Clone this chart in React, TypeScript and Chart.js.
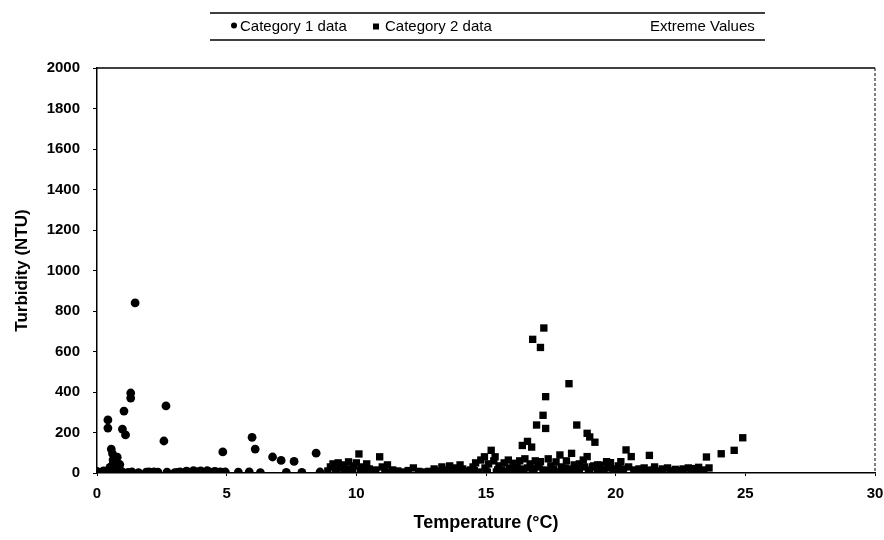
import React, { useEffect, useRef } from "react";
import { Chart, registerables } from "chart.js";

Chart.register(...registerables);

// Category 1 data (circles): temperature (°C) and turbidity (NTU)
const cat1Temp = [
  0.0, 0.1, 0.25, 0.4, 0.5, 0.55, 0.6, 0.7, 0.78, 0.72, 0.6, 0.5, 0.88, 0.82, 0.45, 0.68, 0.95, 0.65,
  0.42, 0.42, 1.47, 1.3, 1.3, 1.04, 0.98, 1.1, 2.66, 2.58,
  1.35, 1.9, 2.0, 2.1, 2.2, 2.7, 3.1, 3.2, 3.35, 3.5, 3.65, 3.8, 3.9, 4.0, 4.1, 4.2, 4.3, 4.4, 4.5,
  4.6, 4.75, 4.85, 5.45, 5.87, 7.9, 8.6, 4.85, 5.98, 6.1, 6.77, 7.1, 7.6, 8.45,
  0.2, 0.35, 0.62, 0.75, 1.2, 1.6, 2.35, 3.0, 3.45, 3.72, 3.95, 4.25, 4.55, 4.68, 4.95, 6.3, 7.3,
];
const cat1Turb = [
  8, 3, 10, 5, 2, 118, 95, 72, 78, 55, 40, 28, 42, 20, 15, 25, 8, 10,
  262, 222, 840, 395, 370, 306, 217, 188, 331, 158,
  5, 4, 6, 3, 5, 4, 3, 6, 2, 5, 3, 7, 4, 10, 3, 6, 8, 2, 5,
  4, 6, 3, 4, 6, 3, 5, 104, 176, 118, 79, 62, 57, 98,
  4, 6, 65, 35, 3, 2, 4, 2, 9, 12, 6, 11, 8, 3, 5, 2, 3,
];

// Category 2 data (squares)
const cat2Temp = [
  9.0, 9.1, 9.2, 9.3, 9.4, 9.5, 9.6, 9.7, 9.8, 9.9, 10.0, 10.1, 10.2, 10.3, 10.4, 10.5, 10.6, 10.9,
  11.0, 11.2, 11.4, 11.6, 11.8, 12.2, 12.4, 12.6, 13.0, 13.1, 13.3, 13.5, 13.6, 13.8, 14.0, 14.1,
  14.3, 14.5, 14.6, 14.8, 14.94, 14.96, 15.2, 15.1, 15.3, 15.35, 15.5, 15.6, 15.7, 15.86, 15.9,
  16.05, 16.1, 16.2, 16.3, 16.4, 16.6, 16.76, 16.5, 16.7, 16.8, 16.9, 16.95, 16.8, 17.1, 17.23,
  17.3, 17.2, 17.3, 17.0, 17.1, 17.2, 17.4, 17.5, 17.6, 17.7, 17.85, 17.9, 18.0, 18.2, 18.3, 18.1,
  18.4, 18.5, 18.6, 18.75, 18.8, 18.9, 18.9, 19.0, 19.0, 19.2, 19.3, 19.4, 19.5, 19.65, 19.8, 19.9,
  20.0, 20.2, 20.4, 20.6, 20.5, 20.7, 20.9, 21.0, 21.1, 21.3, 21.4, 21.5, 21.6, 21.8, 22.0, 22.1,
  22.3, 22.6, 22.8, 22.9, 23.0, 23.2, 23.4, 23.5, 23.6, 24.07, 24.57, 24.9,
  13.2, 13.9, 14.2, 14.4, 14.7, 15.0, 15.4, 15.8, 16.0, 16.4, 16.6, 17.8, 18.2, 18.6, 19.1, 19.3,
  19.7, 20.1, 20.3,
  8.9, 9.25, 9.55, 9.85, 10.15, 10.45, 10.75, 11.1, 11.3, 12.0, 12.8, 13.4, 13.7, 14.05, 14.55,
  15.05, 15.45, 15.75, 16.15, 16.45, 16.85, 17.05, 17.45, 17.65, 18.05, 18.35, 18.95, 19.15, 19.55,
  20.25, 20.8, 21.2, 21.7, 22.2, 22.45, 23.1, 23.3,
];
const cat2Turb = [
  30, 45, 15, 50, 25, 40, 10, 55, 20, 35, 50, 94, 30, 15, 45, 20, 8, 80,
  30, 40, 15, 10, 5, 25, 8, 5, 20, 10, 30, 15, 35, 25, 40, 20,
  10, 30, 50, 64, 80, 25, 112, 45, 60, 80, 35, 15, 50, 64, 25,
  48, 10, 35, 60, 136, 156, 128, 70, 45, 20, 60, 237, 660, 620, 716,
  377, 285, 220, 40, 56, 15, 70, 35, 20, 55, 89, 30, 10, 441, 97, 60,
  40, 237, 20, 64, 30, 196, 81, 178, 15, 152, 40, 39, 10, 56, 51, 20,
  5, 56, 114, 81, 30, 15, 20, 8, 25, 87, 15, 30, 10, 20, 25, 10,
  18, 20, 25, 10, 22, 28, 15, 79, 25, 95, 112, 174,
  5, 8, 3, 15, 5, 10, 5, 8, 20, 5, 25, 5, 20, 45, 30, 5,
  25, 35, 10,
  10, 5, 20, 8, 12, 6, 15, 10, 3, 12, 8, 6, 10, 6, 12,
  4, 15, 5, 12, 20, 8, 30, 12, 5, 25, 15, 8, 35, 18,
  20, 5, 12, 6, 8, 12, 10, 5,
];

const extremeTemp: number[] = [];
const extremeTurb: number[] = [];

const seriesLabels = ["Category 1 data", "Category 2 data", "Extreme Values"];

const xMin = 0;
const xMax = 30;
const xStep = 5;
const yMin = 0;
const yMax = 2000;
const yStep = 200;

const FONT = "'Liberation Sans', Arial, Helvetica, sans-serif";

function pts(xs: number[], ys: number[]) {
  return xs.map((x, i) => ({ x, y: ys[i] }));
}

const framePlugin = {
  id: "frameAndLegend",
  afterDraw(chart: any) {
    const { ctx, chartArea } = chart;
    const { left, right, top, bottom } = chartArea;
    ctx.save();
    ctx.strokeStyle = "#000";
    ctx.lineWidth = 1.5;
    ctx.beginPath();
    ctx.moveTo(left, top);
    ctx.lineTo(right, top);
    ctx.stroke();
    ctx.lineWidth = 1;
    ctx.setLineDash([3, 2]);
    ctx.beginPath();
    ctx.moveTo(right, top);
    ctx.lineTo(right, bottom);
    ctx.stroke();
    ctx.setLineDash([]);

    const lx0 = 210, lx1 = 765, ly0 = 13, ly1 = 40;
    ctx.lineWidth = 1.5;
    ctx.beginPath();
    ctx.moveTo(lx0, ly0);
    ctx.lineTo(lx1, ly0);
    ctx.moveTo(lx0, ly1);
    ctx.lineTo(lx1, ly1);
    ctx.stroke();

    const ds = chart.data.datasets;
    const ly = 26.5;
    ctx.font = `15px ${FONT}`;
    ctx.fillStyle = "#000";
    ctx.textBaseline = "middle";
    ctx.textAlign = "left";
    ctx.beginPath();
    ctx.arc(234, ly - 1, 3, 0, Math.PI * 2);
    ctx.fill();
    ctx.fillText(ds[0].label, 240, ly);
    ctx.fillRect(373, ly - 3, 6, 6);
    ctx.fillText(ds[1].label, 385, ly);
    ctx.fillText(ds[2].label, 650, ly);
    ctx.restore();
  },
};

export default function App() {
  const canvasRef = useRef<HTMLCanvasElement | null>(null);

  useEffect(() => {
    document.body.style.margin = "0";
    const canvas = canvasRef.current;
    if (!canvas) return;
    const chart = new Chart(canvas, {
      type: "scatter",
      data: {
        datasets: [
          {
            label: seriesLabels[0],
            data: pts(cat1Temp, cat1Turb),
            pointStyle: "circle",
            pointRadius: 4.4,
            backgroundColor: "#000",
            borderColor: "#000",
            borderWidth: 0,
          },
          {
            label: seriesLabels[1],
            data: pts(cat2Temp, cat2Turb),
            pointStyle: "rect",
            pointRadius: 5.2,
            backgroundColor: "#000",
            borderColor: "#000",
            borderWidth: 0,
          },
          {
            label: seriesLabels[2],
            data: pts(extremeTemp, extremeTurb),
            pointStyle: "circle",
            pointRadius: 4,
            backgroundColor: "#fff",
            borderColor: "#fff",
          },
        ],
      },
      options: {
        animation: false,
        responsive: false,
        maintainAspectRatio: false,
        layout: { padding: { top: 68, right: 9, left: 0, bottom: 0 } },
        plugins: {
          legend: { display: false },
          tooltip: { enabled: false },
        },
        scales: {
          x: {
            type: "linear",
            min: xMin,
            max: xMax,
            ticks: {
              stepSize: xStep,
              color: "#000",
              font: { family: FONT, size: 15, weight: "bold" },
              padding: 9,
              callback: (v: any) => String(v),
            },
            grid: { display: true, drawOnChartArea: false, drawTicks: true, tickLength: 3, color: "#000" },
            border: { display: true, color: "#000", width: 1.5 },
            title: {
              display: true,
              text: "Temperature (°C)",
              color: "#000",
              font: { family: FONT, size: 18, weight: "bold" },
              padding: { top: 0, bottom: 6 },
            },
            afterFit(scale: any) {
              scale.height = 67;
              scale.paddingRight = 0;
              scale.paddingLeft = 0;
            },
          },
          y: {
            type: "linear",
            min: yMin,
            max: yMax,
            ticks: {
              stepSize: yStep,
              color: "#000",
              font: { family: FONT, size: 15, weight: "bold" },
              padding: 13,
              callback: (v: any) => String(v),
            },
            grid: { display: true, drawOnChartArea: false, drawTicks: true, tickLength: 4, color: "#000" },
            border: { display: true, color: "#000", width: 1.5 },
            title: {
              display: true,
              text: "Turbidity (NTU)",
              color: "#000",
              font: { family: FONT, size: 17, weight: "bold" },
              padding: { top: 12, bottom: 0 },
            },
            afterFit(scale: any) {
              scale.width = 97;
            },
          },
        },
      },
      plugins: [framePlugin],
    });
    return () => chart.destroy();
  }, []);

  return (
    <div style={{ width: 884, height: 540 }}>
      <canvas ref={canvasRef} width={884} height={540} style={{ display: "block" }} />
    </div>
  );
}
